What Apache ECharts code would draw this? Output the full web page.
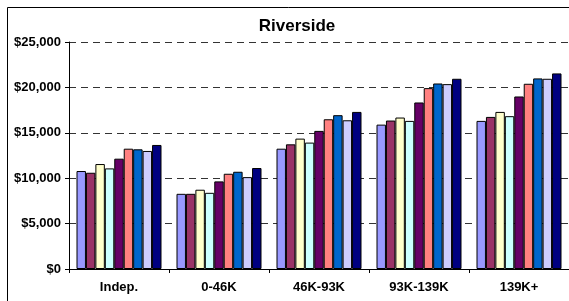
<!DOCTYPE html>
<html>
<head>
<meta charset="utf-8">
<script src="https://cdn.jsdelivr.net/npm/echarts@6/dist/echarts.min.js"></script>
<style>
html, body { margin: 0; padding: 0; background: #fff; }
#chart { width: 569px; height: 301px; }
</style>
</head>
<body>
<div id="chart"></div>
<script>
// income groups on the x axis
var categories = ['Indep.', '0-46K', '46K-93K', '93K-139K', '139K+'];
// one array per series, values per category
var s1 = [10790, 8280, 13250, 15900, 16310];
var s2 = [10600, 8280, 13730, 16350, 16750];
var s3 = [11560, 8730, 14360, 16680, 17300];
var s4 = [11080, 8390, 13920, 16310, 16830];
var s5 = [12150, 9650, 15210, 18340, 19000];
var s6 = [13250, 10490, 16490, 19920, 20400];
var s7 = [13180, 10710, 16940, 20430, 20990];
var s8 = [13000, 10120, 16380, 20360, 20950];
var s9 = [13660, 11120, 17300, 20950, 21540];
var colors = ['#9999FF', '#993366', '#FFFFCC', '#CCFFFF', '#660066', '#FF8080', '#0066CC', '#CCCCFF', '#000080'];

var allSeries = [s1, s2, s3, s4, s5, s6, s7, s8, s9];
var series = [];
for (var i = 0; i < allSeries.length; i++) {
	series.push({
		type: 'bar',
		data: allSeries[i],
		barGap: '0%',
		barCategoryGap: '15%',
		itemStyle: { color: colors[i], borderColor: '#000', borderWidth: 1 }
	});
}

var myChart = echarts.init(document.getElementById('chart'));
var option = {
	animation: false,
	textStyle: { fontFamily: 'Liberation Sans' },
	title: {
		text: 'Riverside',
		left: 292,
		textAlign: 'center',
		top: 13,
		textStyle: { fontSize: 17, fontWeight: 'bold', color: '#000', fontFamily: 'Liberation Sans' }
	},
	graphic: [{
		type: 'rect',
		shape: { x: 7.5, y: 7.5, width: 640, height: 340 },
		style: { fill: 'none', stroke: '#000', lineWidth: 1 },
		silent: true
	}],
	grid: { left: 69, top: 42, width: 504, height: 227 },
	xAxis: {
		type: 'category',
		data: categories,
		axisLine: { lineStyle: { color: '#000', width: 1 } },
		axisTick: { show: true, length: 4, lineStyle: { color: '#000' } },
		axisLabel: { color: '#000', fontSize: 13, fontWeight: 'bold', margin: 12 }
	},
	yAxis: {
		type: 'value',
		min: 0,
		max: 25000,
		interval: 5000,
		axisLine: { show: true, lineStyle: { color: '#000', width: 1 } },
		axisTick: { show: true, length: 4, lineStyle: { color: '#000' } },
		axisLabel: {
			color: '#000', fontSize: 13, fontWeight: 'bold', margin: 8,
			formatter: function (v) { return '$' + v.toLocaleString('en-US'); }
		},
		splitLine: { show: true, lineStyle: { color: '#333', width: 1, type: [7, 5] } }
	},
	series: series
};
myChart.setOption(option);
</script>
</body>
</html>
